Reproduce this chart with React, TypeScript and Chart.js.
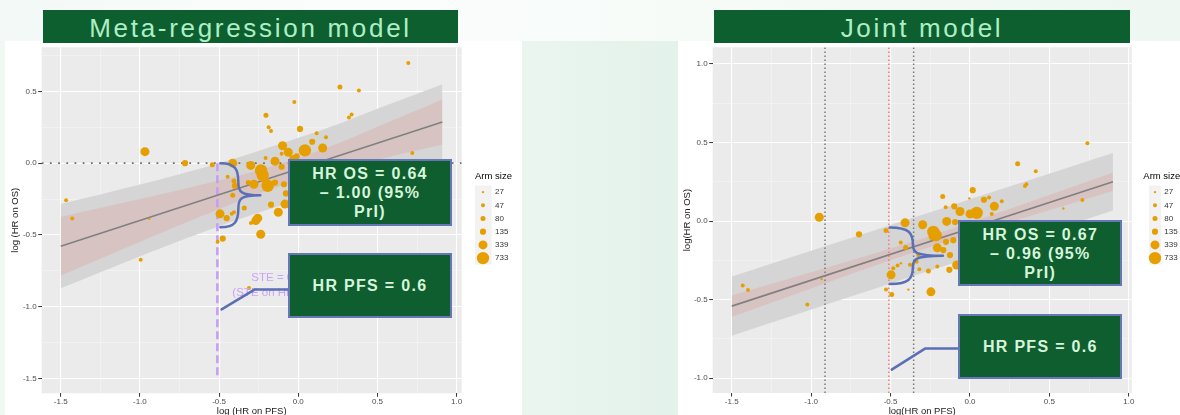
import React, { useEffect, useRef } from 'react';
import { Chart, registerables } from 'chart.js';

Chart.register(...registerables);

const FONT = "'Liberation Sans', Arial, Helvetica, sans-serif";

// ---------- shared ----------
const armSizes = [27, 47, 80, 135, 339, 733];
const armRadii = [1.2, 2.0, 2.5, 3.1, 4.5, 6.2];
const hrPfs = 0.6;

// ---------- Meta-regression model ----------
const metaX = [0.695, 0.263, 0.383, -0.025, -0.204, -0.187, -0.172, 0.011, 0.337, 0.32, 0.116, 0.72, -0.968, -0.715, -0.543,
  -1.466, -1.427, -0.94, -0.995, -0.509, -0.477, -0.237, -0.311, -0.494, -0.452, -0.42, -0.406, -0.341, -0.299, -0.256,
  -0.268, -0.446, -0.414, -0.4, -0.414, -0.3, -0.235, -0.225, -0.28, -0.193, -0.215, -0.147, -0.099, -0.063, 0.042,
  0.088, 0.154, 0.175, -0.172, -0.126, -0.084, -0.105, -0.01, -0.206, -0.105, -0.406, -0.316, -0.147, -0.09, -0.078, -0.03];
const metaY = [0.697, 0.53, 0.506, 0.426, 0.334, 0.25, 0.224, 0.238, 0.339, 0.318, 0.208, 0.071, 0.08, 0.0, -0.012,
  -0.259, -0.385, -0.388, -0.672, -0.548, -0.525, -0.495, -0.869, -0.353, -0.383, -0.353, -0.342, -0.312, -0.417, -0.383,
  -0.4, -0.094, 0.0, -0.158, -0.223, -0.016, -0.051, -0.083, -0.147, -0.158, -0.108, 0.014, 0.121, 0.076, 0.089,
  0.149, 0.105, 0.181, -0.289, -0.342, -0.285, 0.066, 0.048, 0.036, -0.025, -0.124, -0.135, -0.135, -0.147, -0.211, 0.025];
const metaN = [47, 80, 47, 47, 80, 47, 47, 135, 47, 47, 47, 47, 339, 135, 80,
  47, 47, 27, 47, 47, 135, 339, 47, 339, 135, 47, 47, 80, 47, 339,
  339, 47, 339, 135, 80, 339, 733, 733, 339, 733, 339, 339, 339, 339, 733,
  135, 339, 47, 135, 339, 339, 47, 135, 47, 135, 80, 80, 135, 135, 135, 339];
const metaLineX = [-1.5, 0.91];
const metaLineY = [-0.578, 0.286];
const metaBandX = [-1.5, -1.0, -0.5, -0.2, 0.2, 0.5, 0.91];
const metaGreyHi = [-0.285, -0.149, 0.0, 0.103, 0.251, 0.379, 0.549];
const metaGreyLo = [-0.871, -0.649, -0.44, -0.327, -0.189, -0.101, 0.023];
const metaRedHi = [-0.373, -0.249, -0.12, -0.032, 0.116, 0.254, 0.443];
const metaRedLo = [-0.783, -0.549, -0.32, -0.192, -0.054, 0.024, 0.129];
const metaHrOs = [0.64, 1.0];
const metaSteText = ['STE = 0.41', '(STE on HR OS)'];
const metaSteY = [-0.8, -0.905];

// ---------- Joint model ----------
const jointX = [0.739, 0.3, 0.414, 0.346, 0.355, 0.707, 0.588, 0.017, -0.172, -0.949, -0.699, -1.431, -1.398, -0.934, -1.024,
  -0.493, -0.529, -0.388, -0.246, -0.529, -0.409, -0.298, -0.231, -0.216, -0.497, -0.13, -0.084, -0.004, 0.12, 0.088,
  0.2, 0.153, -0.099, -0.153, -0.063, 0.0, 0.042, 0.137, -0.147, -0.094, -0.436, -0.241, -0.151, -0.105, -0.405,
  -0.206, -0.168, -0.326, -0.126, -0.336, -0.378, -0.435, -0.456, -0.483, -0.319, -0.262, -0.206];
const jointY = [0.495, 0.365, 0.317, 0.224, 0.234, 0.134, 0.08, 0.197, 0.157, 0.025, -0.084, -0.409, -0.438, -0.369, -0.53,
  -0.467, -0.436, -0.436, -0.45, -0.059, -0.011, -0.023, -0.069, -0.09, -0.342, -0.31, -0.279, 0.145, 0.151, 0.136,
  0.126, 0.094, 0.094, 0.088, 0.061, 0.046, 0.052, 0.046, -0.002, -0.006, -0.136, -0.1, -0.132, -0.121, -0.168,
  -0.17, -0.184, -0.216, -0.216, -0.258, -0.278, -0.268, -0.283, -0.3, -0.306, -0.317, -0.289];
const jointN = [47, 80, 47, 47, 47, 47, 27, 135, 80, 339, 135, 47, 47, 27, 47,
  80, 47, 27, 339, 80, 339, 339, 733, 733, 339, 135, 339, 27, 47, 135,
  47, 339, 135, 47, 339, 339, 733, 47, 339, 135, 47, 135, 135, 135, 80,
  339, 135, 47, 135, 47, 47, 27, 47, 47, 47, 80, 47];
const jointLineX = [-1.5, 0.9];
const jointLineY = [-0.541, 0.25];
const jointGreyX = [-1.5, 0.9];
const jointGreyHi = [-0.352, 0.434];
const jointGreyLo = [-0.73, 0.067];
const jointRedX = [-1.5, -0.3, 0.9];
const jointRedHi = [-0.473, -0.11, 0.308];
const jointRedLo = [-0.609, -0.18, 0.192];
const jointVLines = [-0.913, Math.log(hrPfs), -0.355];
const jointHrOs = [0.67, 0.96];

// ---------- helpers ----------
const isMajor = (v: number) => Math.abs(v * 2 - Math.round(v * 2)) < 1e-6;
const radiusOf = (n: number) => armRadii[armSizes.indexOf(n)];
const pts = (xs: number[], ys: number[]) => xs.map((x, i) => ({ x, y: ys[i] }));

type RefLine = { pts: { x: number; y: number }[]; color: string; width: number; dash: number[] };
type PanelProps = {
  left: number; top: number; w: number; h: number;
  plotL: number; plotT: number; plotR: number; plotB: number;
  xMin: number; xMax: number; yMin: number; yMax: number;
  xs: number[]; ys: number[]; ns: number[];
  lineX: number[]; lineY: number[];
  greyX: number[]; greyHi: number[]; greyLo: number[];
  redX: number[]; redHi: number[]; redLo: number[];
  tension: number;
  refLines: RefLine[];
  xTitle: string; yTitle: string;
  hrOs: number[]; braceDx: number; braceArm: number; braceTip: number;
  callX: number; callY: number; callDx: number; callDy: number; callEndX: number;
  ste?: { texts: string[]; ys: number[]; dxs: number[] };
  lg: { titleX: number; titleY: number; keyX: number; keyW: number; keyTop: number; step: number; circleX: number; labelX: number };
};

function Panel(p: PanelProps) {
  const ref = useRef<HTMLCanvasElement | null>(null);
  useEffect(() => {
    if (!ref.current) return;
    const BLUE = '#5A6FB6';
    const decor = {
      id: 'decor',
      beforeDraw(chart: any) {
        const { ctx, chartArea: a } = chart;
        ctx.save();
        ctx.fillStyle = '#EBEBEB';
        ctx.fillRect(a.left, a.top, a.right - a.left, a.bottom - a.top);
        ctx.restore();
      },
      afterDatasetsDraw(chart: any) {
        const { ctx } = chart;
        const sx = chart.scales.x, sy = chart.scales.y;
        if (p.ste) {
          ctx.save();
          ctx.fillStyle = '#C9A3F7';
          ctx.font = `11.5px ${FONT}`;
          ctx.textBaseline = 'middle';
          ctx.textAlign = 'left';
          const x0 = sx.getPixelForValue(Math.log(hrPfs));
          p.ste.texts.forEach((t, i) => ctx.fillText(t, x0 + p.ste!.dxs[i], sy.getPixelForValue(p.ste!.ys[i])));
          ctx.restore();
        }
        const bx = sx.getPixelForValue(Math.log(hrPfs)) + p.braceDx;
        const yT = sy.getPixelForValue(Math.log(p.hrOs[1]));
        const yB = sy.getPixelForValue(Math.log(p.hrOs[0]));
        const hh = yB - yT, yM = (yT + yB) / 2, a = p.braceArm, t = p.braceTip;
        ctx.save();
        ctx.strokeStyle = BLUE;
        ctx.lineWidth = 2.5;
        ctx.lineCap = 'round';
        ctx.lineJoin = 'round';
        ctx.beginPath();
        ctx.moveTo(bx, yT);
        ctx.bezierCurveTo(bx + a * 0.85, yT, bx + a, yT + hh * 0.1, bx + a, yT + hh * 0.3);
        ctx.bezierCurveTo(bx + a, yT + hh * 0.44, bx + a * 1.1, yM, bx + t, yM);
        ctx.moveTo(bx, yB);
        ctx.bezierCurveTo(bx + a * 0.85, yB, bx + a, yB - hh * 0.1, bx + a, yB - hh * 0.3);
        ctx.bezierCurveTo(bx + a, yB - hh * 0.44, bx + a * 1.1, yM, bx + t, yM);
        ctx.stroke();
        const cx = sx.getPixelForValue(p.callX), cy = sy.getPixelForValue(p.callY);
        ctx.beginPath();
        ctx.moveTo(cx, cy);
        ctx.lineTo(cx + p.callDx, cy + p.callDy);
        ctx.lineTo(p.callEndX, cy + p.callDy);
        ctx.stroke();
        ctx.restore();
      },
      afterDraw(chart: any) {
        const { ctx } = chart;
        const g = p.lg;
        ctx.save();
        ctx.fillStyle = '#000000';
        ctx.font = `9.5px ${FONT}`;
        ctx.textBaseline = 'middle';
        ctx.textAlign = 'left';
        ctx.fillText('Arm size', g.titleX, g.titleY);
        ctx.fillStyle = '#F2F2F2';
        ctx.fillRect(g.keyX, g.keyTop, g.keyW, g.step * armSizes.length);
        armSizes.forEach((n, i) => {
          const cy = g.keyTop + g.step * (i + 0.5);
          ctx.fillStyle = '#E69F00';
          ctx.beginPath();
          ctx.arc(g.circleX, cy, armRadii[i], 0, Math.PI * 2);
          ctx.fill();
          ctx.fillStyle = '#333333';
          ctx.font = `8px ${FONT}`;
          ctx.fillText(String(n), g.labelX, cy);
        });
        ctx.restore();
      },
    };

    const bandDs = (data: any[], fill: any, color: string, order: number) => ({
      type: 'line', data, fill, backgroundColor: color, borderColor: 'transparent', borderWidth: 0,
      pointRadius: 0, tension: p.tension, order,
    });

    const datasets: any[] = [
      { type: 'bubble', data: p.xs.map((x, i) => ({ x, y: p.ys[i], r: radiusOf(p.ns[i]) })), backgroundColor: '#E69F00', borderColor: 'transparent', borderWidth: 0, order: 1 },
      { type: 'line', data: pts(p.lineX, p.lineY), borderColor: '#808080', borderWidth: 1.6, pointRadius: 0, fill: false, order: 2 },
      ...p.refLines.map((r) => ({ type: 'line', data: r.pts, borderColor: r.color, borderWidth: r.width, borderDash: r.dash, pointRadius: 0, fill: false, order: 3 })),
      bandDs(pts(p.redX, p.redHi), '+1', 'rgba(225,150,150,0.28)', 4),
      bandDs(pts(p.redX, p.redLo), false, 'transparent', 4),
      bandDs(pts(p.greyX, p.greyHi), '+1', '#D5D5D5', 5),
      bandDs(pts(p.greyX, p.greyLo), false, 'transparent', 5),
    ];

    const gridCfg = {
      color: (c: any) => (c.tick && isMajor(c.tick.value) ? '#FFFFFF' : 'rgba(255,255,255,0.55)'),
      lineWidth: (c: any) => (c.tick && isMajor(c.tick.value) ? 1.1 : 0.6),
      tickColor: (c: any) => (c.tick && isMajor(c.tick.value) ? '#333333' : 'rgba(0,0,0,0)'),
      tickLength: 3.5,
      tickWidth: 1,
      drawTicks: true,
    };
    const tickCfg = {
      stepSize: 0.25, includeBounds: false, autoSkip: false, maxRotation: 0,
      callback: (v: any) => (isMajor(Number(v)) ? Number(v).toFixed(1) : ''),
      font: { family: FONT, size: 8 }, color: '#4D4D4D',
    };

    const chart = new Chart(ref.current, {
      type: 'bubble',
      data: { datasets },
      options: {
        responsive: false,
        animation: false,
        events: [],
        layout: { padding: { left: 0, top: p.plotT, right: p.w - p.plotR, bottom: 0 } },
        plugins: { legend: { display: false }, tooltip: { enabled: false } },
        scales: {
          x: {
            type: 'linear', min: p.xMin, max: p.xMax,
            afterFit: (s: any) => { s.height = p.h - p.plotB; s.paddingLeft = 0; s.paddingRight = 0; },
            ticks: { ...tickCfg, padding: 0 },
            grid: gridCfg,
            border: { display: false },
            title: { display: true, text: p.xTitle, color: '#1A1A1A', font: { family: FONT, size: 9.5 }, padding: { top: 0, bottom: 4.3 } },
          },
          y: {
            type: 'linear', min: p.yMin, max: p.yMax,
            afterFit: (s: any) => { s.width = p.plotL; s.paddingTop = 0; s.paddingBottom = 0; },
            ticks: { ...tickCfg, padding: 1.5 },
            grid: gridCfg,
            border: { display: false },
            title: { display: true, text: p.yTitle, color: '#1A1A1A', font: { family: FONT, size: 9.5 }, padding: { top: 9.3, bottom: 0 } },
          },
        },
      } as any,
      plugins: [decor as any],
    } as any);
    return () => chart.destroy();
  }, []);
  return (
    <canvas
      ref={ref}
      width={p.w}
      height={p.h}
      style={{ position: 'absolute', left: p.left, top: p.top, width: p.w, height: p.h }}
    />
  );
}

const headerStyle = (left: number, width: number): React.CSSProperties => ({
  position: 'absolute', left, top: 10, width, height: 33, background: '#0E5F2F',
  color: '#ADEFC5', fontFamily: FONT, fontSize: 26, letterSpacing: 2.7, lineHeight: '33px',
  textAlign: 'center', paddingTop: 2, boxSizing: 'border-box', whiteSpace: 'nowrap',
});

const boxStyle = (left: number, top: number, width: number, height: number): React.CSSProperties => ({
  position: 'absolute', left, top, width, height, background: '#0F5E2F', border: '2.7px solid #6677B5',
  boxSizing: 'border-box', color: '#D6F5DB', fontFamily: FONT, fontWeight: 'bold', fontSize: 16,
  letterSpacing: 1.3, lineHeight: '19px', display: 'flex', alignItems: 'center', justifyContent: 'center',
  textAlign: 'center', whiteSpace: 'pre',
});

export default function App() {
  return (
    <div style={{ position: 'fixed', left: 0, top: 0, width: 1180, height: 415, overflow: 'hidden', background: '#F1F8F4' }}>
      <div style={{ position: 'absolute', left: 0, top: 0, width: 1180, height: 41, background: 'linear-gradient(90deg,#f3f9f6,#fbfdfc 30%,#f6fbf8 60%,#eef7f2)' }} />
      <div style={{ position: 'absolute', left: 522, top: 41, width: 156, height: 374, background: 'linear-gradient(90deg,#eaf5ef,#e3f2ea)' }} />
      <div style={{ position: 'absolute', left: 5, top: 41, width: 517, height: 374, background: '#FFFFFF' }} />
      <div style={{ position: 'absolute', left: 678, top: 41, width: 502, height: 374, background: '#FFFFFF' }} />

      <Panel
        left={0} top={41} w={522} h={380}
        plotL={41.7} plotT={2} plotR={461.7} plotB={352.3}
        xMin={-1.62} xMax={1.032} yMin={-1.602} yMax={0.807}
        xs={metaX} ys={metaY} ns={metaN}
        lineX={metaLineX} lineY={metaLineY}
        greyX={metaBandX} greyHi={metaGreyHi} greyLo={metaGreyLo}
        redX={metaBandX} redHi={metaRedHi} redLo={metaRedLo}
        tension={0.35}
        refLines={[
          { pts: [{ x: -1.62, y: 0 }, { x: 1.032, y: 0 }], color: '#6E6E6E', width: 1.8, dash: [1.8, 6.4] },
          { pts: [{ x: Math.log(hrPfs), y: 0 }, { x: Math.log(hrPfs), y: -1.5 }], color: '#C79BF7', width: 2.5, dash: [8, 4] },
        ]}
        xTitle="log (HR on PFS)" yTitle="log (HR on OS)"
        hrOs={metaHrOs} braceDx={3} braceArm={18} braceTip={40}
        callX={-0.484} callY={-1.018} callDx={33.3} callDy={-20} callEndX={288.3}
        ste={{ texts: metaSteText, ys: metaSteY, dxs: [34, 15] }}
        lg={{ titleX: 475, titleY: 135.7, keyX: 475, keyW: 16.7, keyTop: 144.5, step: 13.2, circleX: 483, labelX: 495 }}
      />
      <Panel
        left={672} top={41} w={508} h={380}
        plotL={40.7} plotT={2} plotR={459.7} plotB={352}
        xMin={-1.62} xMax={1.018} yMin={-1.094} yMax={1.107}
        xs={jointX} ys={jointY} ns={jointN}
        lineX={jointLineX} lineY={jointLineY}
        greyX={jointGreyX} greyHi={jointGreyHi} greyLo={jointGreyLo}
        redX={jointRedX} redHi={jointRedHi} redLo={jointRedLo}
        tension={0.3}
        refLines={jointVLines.map((x, i) => ({
          pts: [{ x, y: -1.094 }, { x, y: 1.107 }],
          color: i === 1 ? '#F07A7A' : '#7A7A7A', width: 1.5, dash: [1.5, 2.5],
        }))}
        xTitle="log(HR on PFS)" yTitle="log(HR on OS)"
        hrOs={jointHrOs} braceDx={1} braceArm={23} braceTip={53}
        callX={-0.493} callY={-0.945} callDx={33.3} callDy={-21} callEndX={286.3}
        lg={{ titleX: 471.3, titleY: 135.7, keyX: 477, keyW: 12, keyTop: 144.5, step: 13.2, circleX: 483, labelX: 492.3 }}
      />

      <div style={headerStyle(43, 415)}>Meta-regression model</div>
      <div style={headerStyle(714, 416)}>Joint model</div>

      <div style={boxStyle(288.3, 159.3, 163.4, 66.7)}>{'HR OS = 0.64\n– 1.00 (95%\nPrI)'}</div>
      <div style={boxStyle(288.3, 253.3, 163.4, 65)}>{'HR PFS = 0.6'}</div>
      <div style={boxStyle(958.3, 220, 164, 66)}>{'HR OS = 0.67\n– 0.96 (95%\nPrI)'}</div>
      <div style={boxStyle(958.3, 314.3, 164, 65)}>{'HR PFS = 0.6'}</div>
    </div>
  );
}
